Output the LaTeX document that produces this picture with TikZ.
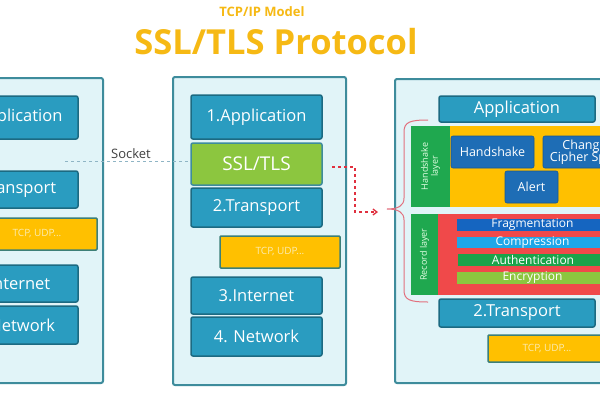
\documentclass[tikz,border=0pt]{standalone}
\usepackage{fontspec}
\setmainfont{Open Sans}
\usetikzlibrary{arrows.meta}
\definecolor{panelfill}{HTML}{E1F4F8}
\definecolor{panelline}{HTML}{3E8C9C}
\definecolor{layerfill}{HTML}{2A9CC0}
\definecolor{layerline}{HTML}{1C6A82}
\definecolor{sslgreen}{HTML}{8CC63F}
\definecolor{tcporange}{HTML}{FFC000}
\definecolor{tcpline}{HTML}{3C7F78}
\definecolor{tcptext}{HTML}{FBEBB0}
\definecolor{stripgreen}{HTML}{1FA84F}
\definecolor{hsblue}{HTML}{1E6DB5}
\definecolor{recred}{HTML}{F0494A}
\definecolor{fragblue}{HTML}{1565C0}
\definecolor{compblue}{HTML}{1EA7E8}
\definecolor{authgreen}{HTML}{1AA34A}
\definecolor{encgreen}{HTML}{8CC63F}
\definecolor{titleyellow}{HTML}{F6B914}
\definecolor{arrowred}{HTML}{E0303F}
\definecolor{bracered}{HTML}{E2707E}
\definecolor{sockline}{HTML}{8FB5C5}
\tikzset{
  panel/.style={draw=panelline, line width=2pt, fill=panelfill, rounded corners=2pt},
  layer/.style={draw=layerline, line width=1.5pt, fill=layerfill, rounded corners=2pt, text=white, font=\fontsize{16.5}{16.5}\selectfont},
  sslbox/.style={layer, fill=sslgreen, draw=panelline, font=\fontsize{19}{19}\selectfont},
  tcpbox/.style={draw=tcpline, line width=1.5pt, fill=tcporange, rounded corners=1pt, text=tcptext, font=\fontsize{10}{10}\selectfont},
  region/.style={draw=none},
  hsbox/.style={fill=hsblue, draw=hsblue!80!black, line width=0.6pt, rounded corners=2pt, text=white, font=\fontsize{12.5}{13}\selectfont, align=center},
  bar/.style={draw=none, text=white, font=\fontsize{12}{12}\selectfont},
  striptext/.style={text=white!90!green, font=\fontsize{9}{10}\selectfont, rotate=90, align=center},
}
\newcommand{\boxat}[7]{\node[#6, inner sep=0pt, minimum width={(#4-#2)*1pt}, minimum height={(#5-#3)*1pt}] (#1) at ({(#2+#4)/2},{(#3+#5)/2}) {#7};}
\begin{document}
\begin{tikzpicture}[x=1pt,y=-1pt]
\useasboundingbox (0,0) rectangle (600,400);
\clip (0,0) rectangle (600,400);
\fill[white] (0,0) rectangle (600,400);
% title
\node[text=titleyellow, font=\fontsize{13}{13}\selectfont\bfseries] (sub) at (262,12) {TCP/IP Model};
\node[text=titleyellow, font=\fontsize{34.5}{36}\selectfont\bfseries] (title) at (276,42) {SSL/TLS Protocol};
% left panel
\boxat{lp}{-70}{78}{103}{383}{panel}{}
\boxat{lapp}{-53}{96}{78}{139}{layer}{1.Application}
\boxat{ltr}{-53}{171}{78}{208}{layer}{2.Transport}
\boxat{ltcp}{-23}{218}{97}{250}{tcpbox}{TCP, UDP...}
\boxat{lint}{-53}{265}{78}{302}{layer}{3.Internet}
\boxat{lnet}{-53}{306}{78}{344}{layer}{4. Network}
% middle panel
\boxat{mp}{173}{77}{346}{385}{panel}{}
\boxat{mapp}{191}{95}{322}{139}{layer}{1.Application}
\boxat{ssl}{191}{143}{322}{185}{sslbox}{SSL/TLS}
\boxat{mtr}{191}{188}{322}{227}{layer}{2.Transport}
\boxat{mtcp}{220}{236}{340}{268}{tcpbox}{TCP, UDP...}
\boxat{mint}{191}{277}{322}{314}{layer}{3.Internet}
\boxat{mnet}{191}{317}{322}{356}{layer}{4. Network}
% socket line
\coordinate (sockstart) at (65,161);
\draw[sockline, dashed, line width=0.8pt] (sockstart) -- (ssl.west |- sockstart);
\node[text=black!75, font=\fontsize{13}{13}\selectfont, fill=white, inner sep=1pt] (socket) at (131,154) {Socket};
% right panel
\boxat{rp}{395}{79}{680}{383}{panel}{}
\boxat{rapp}{439}{96}{595}{122}{layer}{Application}
\boxat{hsstrip}{411}{126}{450}{207}{region, fill=stripgreen}{}
\boxat{hsarea}{450}{126}{700}{207}{region, fill=tcporange}{}
\node[striptext] (hslabel) at (hsstrip.center) {Handshake\\layer};
\boxat{hs}{451}{136}{534}{168}{hsbox}{Handshake}
\boxat{ccs}{543}{136}{626}{168}{hsbox, font=\fontsize{12.5}{12.5}\selectfont}{Change\\Cipher Spec}
\boxat{alert}{505}{171}{558}{203}{hsbox}{Alert}
\boxat{recstrip}{411}{214}{438}{295}{region, fill=stripgreen}{}
\boxat{recarea}{438}{214}{700}{295}{region, fill=recred}{}
\node[striptext] (reclabel) at (recstrip.center) {Record layer};
\boxat{frag}{457}{219}{608}{231}{bar, fill=fragblue}{Fragmentation}
\boxat{comp}{457}{237}{608}{248}{bar, fill=compblue}{Compression}
\boxat{auth}{458}{254}{608}{266}{bar, fill=authgreen}{Authentication}
\boxat{enc}{457}{273}{608}{283}{bar, fill=encgreen}{Encryption}
\boxat{rtr}{439}{299}{595}{327}{layer}{2.Transport}
\boxat{rtcp}{488}{335}{606}{362}{tcpbox}{TCP, UDP...}
% brace
\coordinate (btop) at (428,120);
\coordinate (btip) at (387,209);
\coordinate (bbot) at (428,302);
\draw[bracered, line width=1pt] (btop) .. controls (410,120) and (404,122) .. (404,132)
  -- (404,198) .. controls (404,206) and (398,209) .. (btip)
  .. controls (398,209) and (404,212) .. (404,220)
  -- (404,290) .. controls (404,300) and (410,302) .. (bbot);
% red dashed arrow
\coordinate (astart) at (332,167);
\coordinate (aend) at (378,212);
\draw[arrowred, dashed, line width=1.3pt, -{Straight Barb[length=4pt,width=6pt]}] (astart) -- (355,167) -- (355,212) -- (aend);
\end{tikzpicture}
\end{document}
